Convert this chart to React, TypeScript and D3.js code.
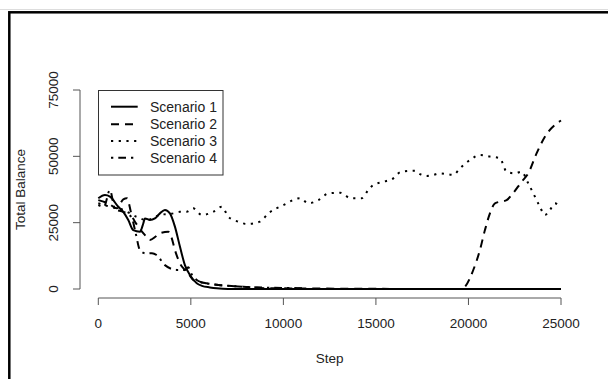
import React from "react";
import * as d3 from "d3";

const xTicks = [0, 5000, 10000, 15000, 20000, 25000];
const yTicks = [0, 25000, 50000, 75000];
const seriesNames = ["Scenario 1", "Scenario 2", "Scenario 3", "Scenario 4"];

const s1Steps = [0, 360, 630, 1080, 1350, 1620, 1890, 2250, 2430, 2520, 2790, 3060, 3330, 3600, 3870, 4140, 4410, 4680, 4950, 5320, 5600, 6030, 6400, 7000, 25000];
const s1Vals = [34200, 35400, 34800, 31000, 29100, 26000, 22200, 21600, 24700, 26600, 26000, 26600, 28500, 29800, 28500, 23500, 16000, 9000, 5300, 2200, 1200, 600, 250, 0, 0];

const s2Steps = [0, 600, 1000, 1350, 1550, 1800, 2160, 2500, 2790, 3100, 3330, 3780, 3950, 4140, 4410, 4680, 4900, 5130, 5500, 5850, 6500, 7830, 9000, 19600, 19810, 20260, 20620, 20890, 21160, 21430, 22060, 22330, 22870, 23230, 23680, 24130, 24770, 25000];
const s2Vals = [33500, 32000, 30400, 33800, 34200, 28000, 23500, 20500, 18500, 19800, 21000, 21600, 19500, 14700, 9700, 7160, 5500, 3400, 2600, 2150, 1500, 880, 300, 0, 870, 7160, 14700, 22200, 28500, 32300, 33500, 35400, 40400, 43600, 51100, 57400, 62400, 63500];

const s3Steps = [0, 630, 1350, 2070, 2610, 3330, 4050, 4410, 4780, 5130, 5590, 6210, 6670, 7030, 7560, 8020, 8740, 9190, 10000, 10900, 11350, 11890, 12430, 13060, 13330, 13600, 14230, 14590, 14860, 15400, 15940, 16210, 16390, 17110, 17380, 17740, 18100, 18460, 19180, 19540, 20080, 20620, 21160, 21700, 22060, 22510, 22870, 23230, 23590, 23860, 24130, 24400, 24670, 24940];
const s3Vals = [32300, 31000, 29800, 27200, 26000, 27900, 28500, 29100, 29100, 30400, 27900, 29100, 31000, 27200, 25400, 24500, 25400, 28500, 31600, 34200, 32300, 33500, 36000, 36300, 35400, 34200, 34200, 37300, 39200, 40400, 41700, 43600, 44200, 44600, 43300, 42600, 43000, 43600, 43000, 45500, 48600, 50500, 49900, 49300, 44200, 43600, 44200, 39800, 34800, 31000, 27900, 29800, 32300, 31000];

const s4Steps = [0, 300, 630, 900, 1350, 1800, 2020, 2260, 2600, 2900, 3150, 3600, 4240, 4680, 4860, 5050, 5300, 5600, 6000, 6500, 7000, 8000, 9000, 10000, 11000, 11300, 25000];
const s4Vals = [31600, 31000, 37300, 30000, 29100, 27000, 21000, 14500, 13400, 13500, 12800, 9000, 7200, 7200, 8200, 5500, 3500, 2500, 2000, 1500, 1200, 800, 500, 400, 300, 0, 0];

const dashes = ["none", "8,6", "2.2,5.5", "2.3,5,7.7,5"];

export default function App() {
  const W = 608, H = 379;
  const x = d3.scaleLinear().domain([0, 25000]).range([98.3, 561]);
  const y = d3.scaleLinear().domain([0, 75000]).range([289, 90]);
  const font = "'Liberation Sans', Arial, sans-serif";
  const data = [
    [s1Steps, s1Vals],
    [s2Steps, s2Vals],
    [s3Steps, s3Vals],
    [s4Steps, s4Vals],
  ];
  const line = d3
    .line<[number, number]>()
    .x((d) => x(d[0]))
    .y((d) => y(d[1]))
    .curve(d3.curveMonotoneX);
  const axisY = 298;
  const axisX = 80;
  const legendRows = [106.7, 124.3, 141, 157.7];
  return (
    <svg
      width={W}
      height={H}
      style={{ position: "absolute", left: 0, top: 0, background: "#fff" }}
      fontFamily={font}
    >
      <line x1={0} x2={W} y1={9.5} y2={9.5} stroke="#ddd" strokeWidth={1} />
      <rect x={9.3} y={12.3} width={W + 10} height={H + 10} fill="none" stroke="#000" strokeWidth={2.5} />
      {/* x axis */}
      <line x1={x(0)} x2={x(25000)} y1={axisY} y2={axisY} stroke="#555" strokeWidth={1} />
      {xTicks.map((t) => (
        <g key={"xt" + t}>
          <line x1={x(t)} x2={x(t)} y1={axisY} y2={axisY + 7} stroke="#555" strokeWidth={1} />
          <text x={x(t)} y={328} textAnchor="middle" fontSize={13.5} fill="#222">
            {t}
          </text>
        </g>
      ))}
      <text x={(x(0) + x(25000)) / 2} y={363} textAnchor="middle" fontSize={13.5} fill="#222">
        Step
      </text>
      {/* y axis */}
      <line x1={axisX} x2={axisX} y1={y(0)} y2={y(75000)} stroke="#555" strokeWidth={1} />
      {yTicks.map((t) => (
        <g key={"yt" + t}>
          <line x1={axisX - 7} x2={axisX} y1={y(t)} y2={y(t)} stroke="#555" strokeWidth={1} />
          <text
            transform={`translate(58,${y(t)}) rotate(-90)`}
            textAnchor="middle"
            fontSize={13.5}
            fill="#222"
          >
            {t}
          </text>
        </g>
      ))}
      <text
        transform={`translate(25,${(y(0) + y(75000)) / 2}) rotate(-90)`}
        textAnchor="middle"
        fontSize={13.5}
        fill="#222"
      >
        Total Balance
      </text>
      {/* series */}
      {data.map(([st, vs], i) => {
        const pts: [number, number][] = st.map((s, j) => [s, vs[j]]);
        return (
          <path
            key={"s" + i}
            d={line(pts) || ""}
            fill="none"
            stroke="#000"
            strokeWidth={2}
            strokeDasharray={dashes[i]}
          />
        );
      })}
      {/* legend */}
      <rect x={98.5} y={90.5} width={124.5} height={84.5} fill="#fff" stroke="#333" strokeWidth={1} />
      {seriesNames.map((n, i) => (
        <g key={"lg" + i}>
          <line
            x1={111}
            x2={137.7}
            y1={legendRows[i]}
            y2={legendRows[i]}
            stroke="#000"
            strokeWidth={2}
            strokeDasharray={dashes[i]}
          />
          <text x={150} y={legendRows[i] + 5} fontSize={14} fill="#222">
            {n}
          </text>
        </g>
      ))}
    </svg>
  );
}
